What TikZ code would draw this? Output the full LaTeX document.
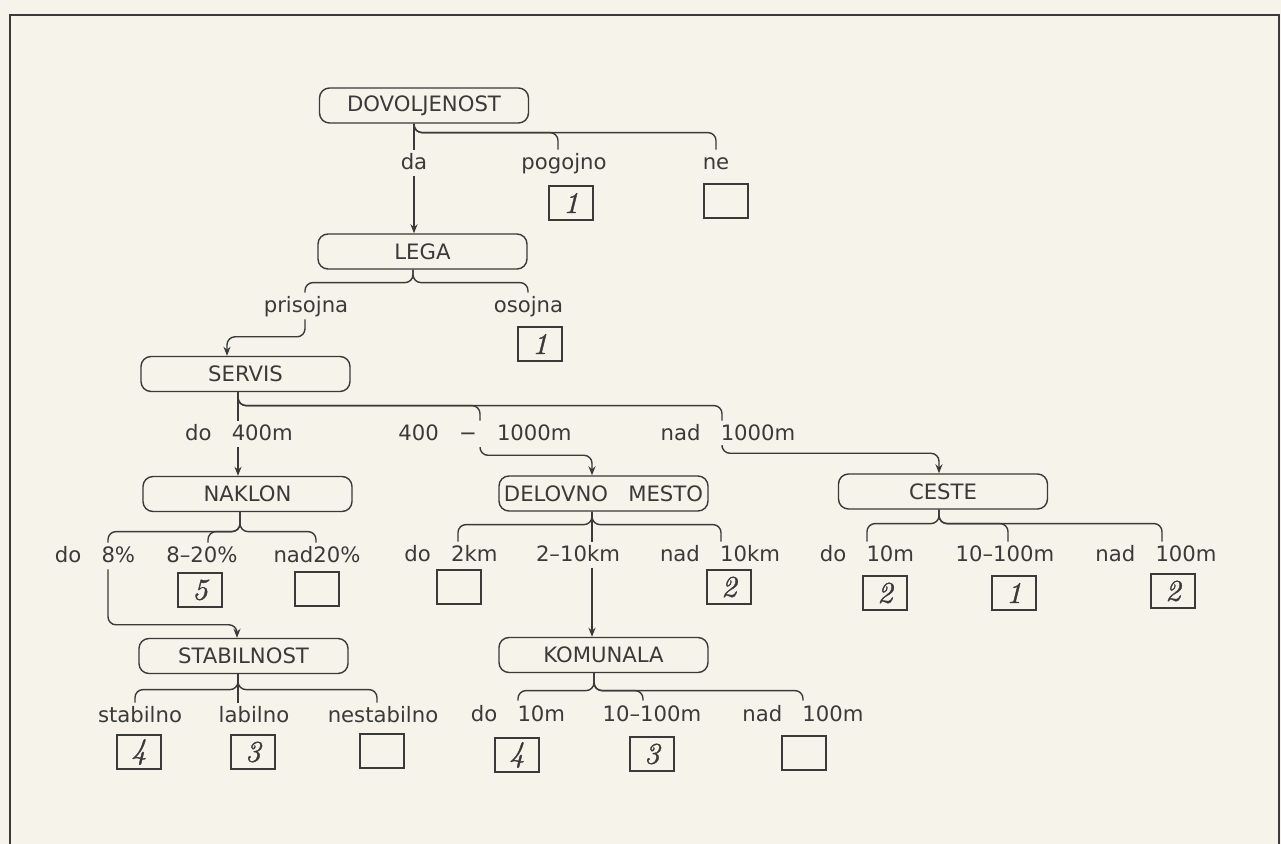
\documentclass[tikz,border=0pt]{standalone}
\usepackage{fontspec}
\usetikzlibrary{arrows.meta,calc}
\newfontfamily\dv{DejaVu Sans}[WordSpace=3]
\newfontfamily\numfont{lmroman10-italic.otf}[FakeBold=1.2]
\definecolor{paper}{HTML}{F6F3EA}
\definecolor{ink}{HTML}{3A3A3A}
\tikzset{
  decbox/.style={draw=ink, line width=0.7pt, rounded corners=5pt, minimum width=104.5pt, minimum height=17.5pt, inner sep=0pt, text=ink, font=\dv\fontsize{10.6}{12}\selectfont},
  lbl/.style={anchor=base, inner sep=1pt, text height=9pt, text depth=2pt, text=ink, font=\dv\fontsize{10.6}{12}\selectfont},
  val/.style={draw=ink, line width=0.7pt, minimum width=22pt, minimum height=17pt, inner sep=0pt, text=ink, font=\numfont\fontsize{15}{15}\selectfont},
  conn/.style={draw=ink, line width=0.7pt, rounded corners=4pt},
  arr/.style={-{Stealth[length=4.5pt,width=3.5pt]}},
}
\begin{document}
\begin{tikzpicture}[x=0.5pt,y=-0.5pt]
\fill[paper] (0,0) rectangle (1281,844);
\useasboundingbox (0,0) rectangle (1281,844);
\draw[ink, line width=1pt] (10,844) -- (10,15) -- (1279,15) -- (1279,844);

% decision boxes
\node[decbox] (dov) at (424,105.5) {DOVOLJENOST};
\node[decbox] (lega) at (422.5,251.5) {LEGA};
\node[decbox] (servis) at (245.5,374) {SERVIS};
\node[decbox] (naklon) at (247.5,494) {NAKLON};
\node[decbox] (delovno) at (603.5,493.5) {DELOVNO MESTO};
\node[decbox] (ceste) at (943,491.5) {CESTE};
\node[decbox] (stabil) at (243.5,656) {STABILNOST};
\node[decbox] (komunala) at (603.5,655) {KOMUNALA};

% branch labels
\node[lbl] (da) at (414,170) {da};
\node[lbl] (pog) at (564,170) {pogojno};
\node[lbl] (ne) at (716,170) {ne};
\node[lbl] (pris) at (306,313) {prisojna};
\node[lbl] (osoj) at (528.5,313) {osojna};
\node[lbl] (do400) at (239,441) {do 400m};
\node[lbl] (d41) at (485,441) {400 − 1000m};
\node[lbl] (nad1k) at (728,441) {nad 1000m};
\node[lbl] (do8) at (95,563) {do 8\%};
\node[lbl] (p820) at (202,563) {8–20\%};
\node[lbl] (nad20) at (317,563) {nad20\%};
\node[lbl] (do2) at (451,562) {do 2km};
\node[lbl] (km210) at (578,562) {2–10km};
\node[lbl] (nad10) at (720,562) {nad 10km};
\node[lbl] (c10) at (867,562) {do 10m};
\node[lbl] (c10100) at (1005,562) {10–100m};
\node[lbl] (c100) at (1156,562) {nad 100m};
\node[lbl] (stab) at (140,723) {stabilno};
\node[lbl] (lab) at (254,723) {labilno};
\node[lbl] (nestab) at (383,723) {nestabilno};
\node[lbl] (k10) at (518,721) {do 10m};
\node[lbl] (k10100) at (652,721) {10–100m};
\node[lbl] (k100) at (803,721) {nad 100m};

% value boxes
\node[val] (v1) at (571,203) {1};
\node[val] (v2) at (726,201) {};
\node[val] (v3) at (540,344) {1};
\node[val] (v4) at (200,590) {5};
\node[val] (v5) at (317,589) {};
\node[val] (v6) at (459,587) {};
\node[val] (v7) at (729,587) {2};
\node[val] (v8) at (885,593) {2};
\node[val] (v9) at (1014,593) {1};
\node[val] (v10) at (1173,591) {2};
\node[val] (v11) at (139,752) {4};
\node[val] (v12) at (253,752) {3};
\node[val] (v13) at (382,751) {};
\node[val] (v14) at (517,755) {4};
\node[val] (v15) at (652,754) {3};
\node[val] (v16) at (804,753) {};

% DOVOLJENOST
\draw[conn] ($(dov.south)+(-10,0)$) -- (da.north);
\draw[conn,arr] (da.south) -- (da.south |- lega.north);
\draw[conn] ($(dov.south)+(-10,0)$) |- ($(pog.north)+(-6,-17)$) -- ($(pog.north)+(-6,0)$);
\draw[conn] ($(dov.south)+(-10,0)$) |- ($(ne.north)+(0,-17)$) -- (ne.north);

% LEGA
\draw[conn] ($(lega.south)+(-9.5,0)$) |- ($(pris.north)+(-1,-10)$) -- ($(pris.north)+(-1,0)$);
\draw[conn] ($(lega.south)+(-9.5,0)$) |- ($(osoj.north)+(-0.5,-10)$) -- ($(osoj.north)+(-0.5,0)$);
\draw[conn,arr] ($(pris.south)+(-1,0)$) |- ($(servis.north)+(-18.5,-19)$) -- ($(servis.north)+(-18.5,0)$);

% SERVIS
\draw[conn] ($(servis.south)+(-7.5,0)$) -- ($(do400.north)+(-1,0)$);
\draw[conn,arr] ($(do400.south)+(-1,0)$) -- ($(naklon.north)+(-9.5,0)$);
\draw[conn] ($(servis.south)+(-7.5,0)$) |- ($(d41.north)+(-5,-15)$) -- ($(d41.north)+(-5,0)$);
\draw[conn] ($(servis.south)+(-7.5,0)$) |- ($(nad1k.north)+(-6,-15)$) -- ($(nad1k.north)+(-6,0)$);
\draw[conn,arr] ($(d41.south)+(-5,0)$) |- ($(delovno.north)+(-11.5,-20)$) -- ($(delovno.north)+(-11.5,0)$);
\draw[conn,arr] ($(nad1k.south)+(-6,0)$) |- ($(ceste.north)+(-4,-20)$) -- ($(ceste.north)+(-4,0)$);

% NAKLON
\draw[conn] ($(naklon.south)+(-7.5,0)$) |- ($(do8.north)+(13,-11)$) -- ($(do8.north)+(13,0)$);
\draw[conn] ($(naklon.south)+(-7.5,0)$) |- ($(p820.north)+(6,-11)$) -- ($(p820.north)+(6,0)$);
\draw[conn] ($(naklon.south)+(-7.5,0)$) |- ($(nad20.north)+(-1,-11)$) -- ($(nad20.north)+(-1,0)$);
\draw[conn,arr] ($(do8.south)+(13,0)$) |- ($(stabil.north)+(-6.5,-13)$) -- ($(stabil.north)+(-6.5,0)$);

% DELOVNO MESTO
\draw[conn] ($(delovno.south)+(-11.5,0)$) -- ($(km210.north)+(14,0)$);
\draw[conn,arr] ($(km210.south)+(14,0)$) -- ($(komunala.north)+(-11.5,0)$);
\draw[conn] ($(delovno.south)+(-11.5,0)$) |- ($(do2.north)+(7,-17)$) -- ($(do2.north)+(7,0)$);
\draw[conn] ($(delovno.south)+(-11.5,0)$) |- ($(nad10.north)+(1,-17)$) -- ($(nad10.north)+(1,0)$);

% CESTE
\draw[conn] ($(ceste.south)+(-4,0)$) |- ($(c10.north)+(0,-18)$) -- (c10.north);
\draw[conn] ($(ceste.south)+(-4,0)$) |- ($(c10100.north)+(3,-18)$) -- ($(c10100.north)+(3,0)$);
\draw[conn] ($(ceste.south)+(-4,0)$) |- ($(c100.north)+(6,-18)$) -- ($(c100.north)+(6,0)$);

% STABILNOST
\draw[conn] ($(stabil.south)+(-5.5,0)$) -- ($(lab.north)+(-16,0)$);
\draw[conn] ($(stabil.south)+(-5.5,0)$) |- ($(stab.north)+(-5,-13)$) -- ($(stab.north)+(-5,0)$);
\draw[conn] ($(stabil.south)+(-5.5,0)$) |- ($(nestab.north)+(-6,-13)$) -- ($(nestab.north)+(-6,0)$);

% KOMUNALA
\draw[conn] ($(komunala.south)+(-9.5,0)$) |- ($(k10.north)+(0,-10)$) -- (k10.north);
\draw[conn] ($(komunala.south)+(-9.5,0)$) |- ($(k10100.north)+(-9,-10)$) -- ($(k10100.north)+(-9,0)$);
\draw[conn] ($(komunala.south)+(-9.5,0)$) |- ($(k100.north)+(0,-10)$) -- (k100.north);
\end{tikzpicture}
\end{document}
